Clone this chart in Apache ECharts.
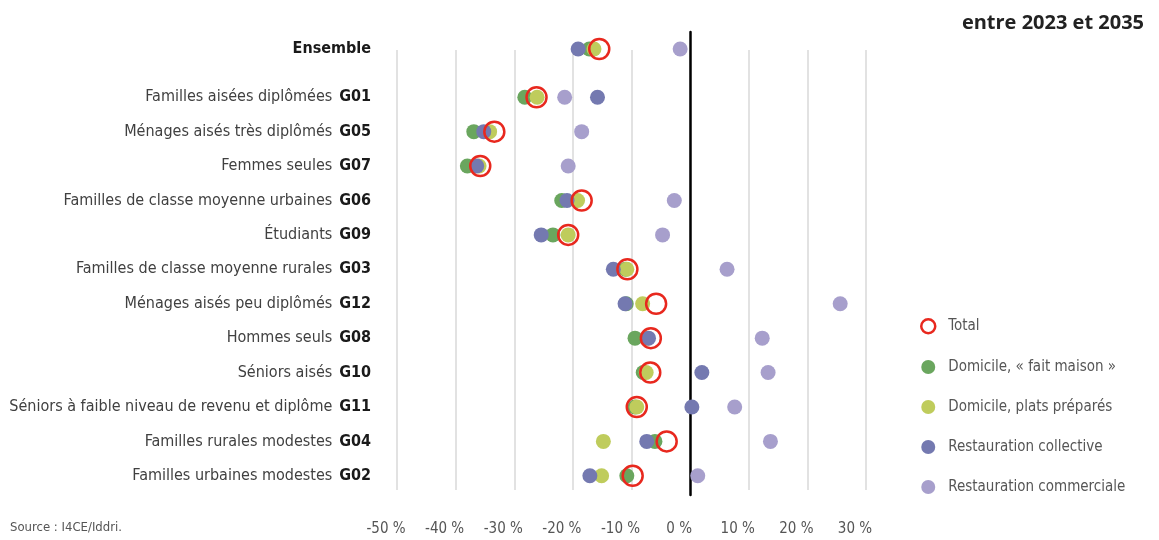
<!DOCTYPE html>
<html><head><meta charset="utf-8">
<script src="https://cdn.jsdelivr.net/npm/echarts@6/dist/echarts.min.js"></script>
<style>html,body{margin:0;padding:0;background:#fff}#c{width:1159px;height:540px}</style>
</head><body><div id="c"></div>
<script>
// ---- data ----
const ensembleLabel = 'Ensemble';
const groupCodes = ['G01','G05','G07','G06','G09','G03','G12','G08','G10','G11','G04','G02'];
const groupNames = ['Familles aisées diplômées','Ménages aisés très diplômés','Femmes seules','Familles de classe moyenne urbaines','Étudiants','Familles de classe moyenne rurales','Ménages aisés peu diplômés','Hommes seuls','Séniors aisés','Séniors à faible niveau de revenu et diplôme','Familles rurales modestes','Familles urbaines modestes'];
const xTicks = [-50,-40,-30,-20,-10,0,10,20,30];
const seriesNames = ['Total','Domicile, « fait maison »','Domicile, plats préparés','Restauration collective','Restauration commerciale'];
// first value = Ensemble, then groups in order above
const total        = [-15.5, -26.2, -33.4, -35.8, -18.5, -20.8, -10.7, -5.8, -6.7, -6.8, -9.1, -4.0, -9.8];
const faitMaison   = [-17.2, -28.2, -36.9, -38.0, -21.9, -23.4, -11.0, -10.9, -9.4, -8.0, -9.4, -6.0, -10.8];
const platsPrep    = [-16.4, -26.1, -34.2, -36.0, -19.2, -20.8, -10.8, -8.1, -7.3, -7.5, -9.1, -14.8, -15.1];
const restoColl    = [-19.1, -15.8, -35.2, -36.4, -21.0, -25.4, -13.1, -11.1, -7.1, 2.0, 0.3, -7.4, -17.1];
const restoComm    = [-1.7, -21.4, -18.5, -20.8, -2.7, -4.7, 6.3, 25.6, 12.3, 13.3, 7.6, 13.7, 1.3];

const allVals = [total, faitMaison, platsPrep, restoColl, restoComm];
const colors = ['#e8281e','#6aa65e','#bfcc5c','#7479b0','#a79fcc'];
const drawOrder = [1,2,3,4,0];

const chart = echarts.init(document.getElementById('c'), null, {renderer:'canvas'});
const FONT = "'Liberation Sans Narrow','DejaVu Sans Condensed','Roboto',sans-serif";
const L = 397, R = 1159-866;

const hiddenX = (gi) => ({gridIndex: gi, type:'value', min:-50, max:30, interval:10, show:false});

const series = [];
drawOrder.forEach(si => {
  const isTotal = si === 0;
  const style = isTotal
    ? {color:'rgba(255,255,255,0)', borderColor: colors[0], borderWidth: 2.5, opacity:1}
    : {color: colors[si], opacity: 1};
  const size = isTotal ? 20 : 15;
  series.push({
    name: seriesNames[si], type:'scatter', xAxisIndex:2, yAxisIndex:2,
    symbol:'circle', symbolSize:size, itemStyle:style, z: isTotal?5:3,
    data: [[allVals[si][0], 0]]
  });
  series.push({
    name: seriesNames[si], type:'scatter', xAxisIndex:3, yAxisIndex:3,
    symbol:'circle', symbolSize:size, itemStyle:style, z: isTotal?5:3,
    data: groupCodes.map((c,i)=>[allVals[si][i+1], i])
  });
});

chart.setOption({
  animation:false,
  textStyle:{fontFamily:FONT},
  title:{text:'entre 2023 et 2035', right:10, top:8,
    textStyle:{fontFamily:"'Open Sans',sans-serif", fontWeight:'bold', fontSize:20, color:'#222'}},
  graphic:[{type:'text', left:10, top:521, style:{text:'Source : I4CE/Iddri.', font:"13px 'Liberation Sans Narrow','DejaVu Sans Condensed',sans-serif", fill:'#555'}}],
  legend:{orient:'vertical', left:915, top:313, itemWidth:14, itemHeight:14, itemGap:25,
    icon:'circle',
    textStyle:{fontFamily:FONT, fontSize:15, color:'#555', padding:[0,0,0,8]},
    data: seriesNames.map((n,i)=> i===0
      ? {name:n, itemStyle:{color:'#fff', borderColor:colors[0], borderWidth:2.5}}
      : {name:n, itemStyle:{color:colors[i]}})
  },
  grid:[
    {left:L, right:R, top:50, bottom:50},
    {left:L, right:R, top:32, bottom:45},
    {left:L, right:R, top:32, height:34},
    {left:L, right:R, top:80, bottom:47}
  ],
  xAxis:[
    {gridIndex:0, type:'value', min:-50, max:30, interval:10,
      axisLine:{show:false}, axisTick:{show:false},
      splitLine:{show:true, lineStyle:{color:'#d9d9d9', width:1.5}},
      axisLabel:{margin:32, fontSize:15, color:'#555', fontFamily:FONT, padding:[0,22,0,0],
        formatter: v => (xTicks.indexOf(v)>=0 ? v + ' %' : '')}},
    hiddenX(1), hiddenX(2), hiddenX(3)
  ],
  yAxis:[
    {gridIndex:0, type:'category', data:[''], show:false},
    {gridIndex:1, type:'category', data:[''], axisLine:{show:true, onZero:true, lineStyle:{color:'#000', width:2.5}},
      axisTick:{show:false}, axisLabel:{show:false}, splitLine:{show:false}},
    {gridIndex:2, type:'category', data:[ensembleLabel], axisLine:{show:false}, axisTick:{show:false},
      axisLabel:{margin:26, fontSize:16, fontWeight:'bold', color:'#1a1a1a', fontFamily:FONT}},
    {gridIndex:3, type:'category', inverse:true, data:groupCodes, axisLine:{show:false}, axisTick:{show:false},
      axisLabel:{margin:26, fontFamily:FONT,
        formatter:(v,i)=>'{n|'+groupNames[i]+'}  {c|'+v+'}',
        rich:{n:{fontSize:16, color:'#404040', fontFamily:FONT}, c:{fontSize:16, fontWeight:'bold', color:'#1a1a1a', fontFamily:FONT}}}}
  ],
  series: series
});
</script></body></html>
